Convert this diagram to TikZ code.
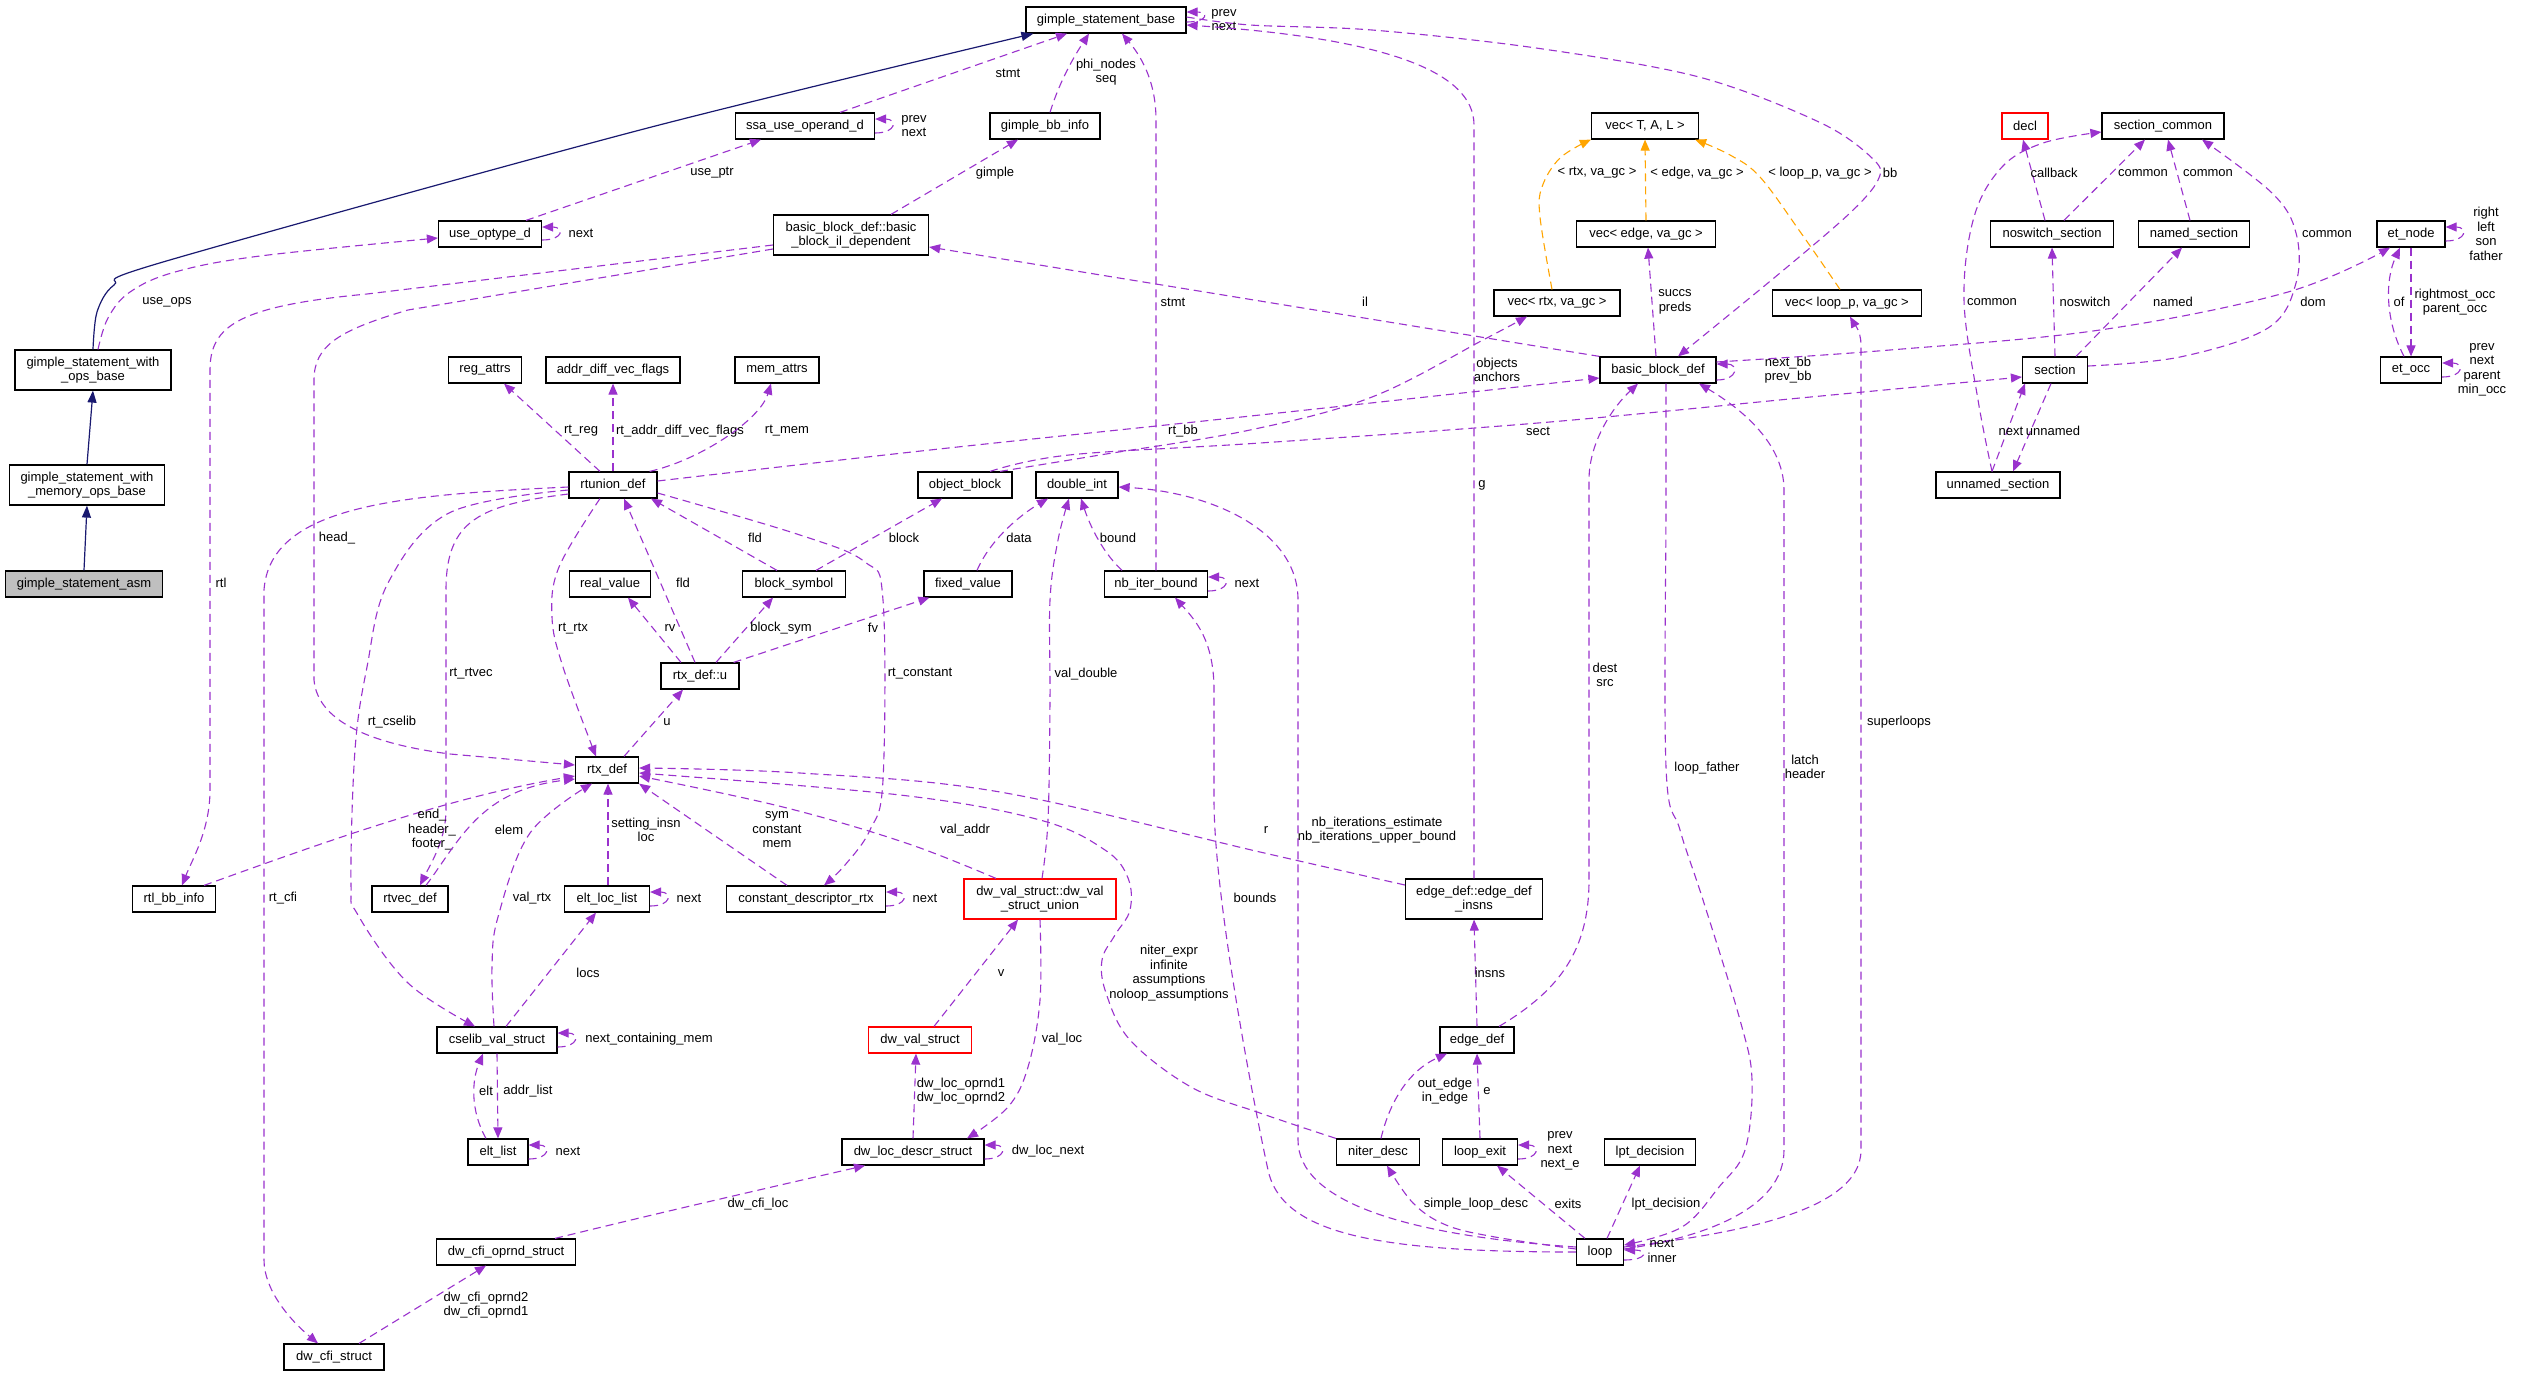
\documentclass[tikz,border=0pt]{standalone}
\usepackage{fontspec}
\setmainfont{Liberation Sans}
\usetikzlibrary{arrows.meta}
\definecolor{purp}{HTML}{9A32CD}
\definecolor{navyb}{HTML}{191970}
\definecolor{orng}{HTML}{FFA500}
\newcommand\labfont{\fontsize{13}{14.5}\selectfont}
\begin{document}
\begin{tikzpicture}[x=1pt,y=-1pt,
 box/.style={draw=black, line width=1.2pt, fill=white, minimum height=26pt, inner sep=1pt, align=center, font=\labfont},
 tall/.style={minimum height=40pt},
 redbox/.style={draw=red},
 rel/.style={draw=purp, line width=1.1pt, dash pattern=on 8pt off 5pt, -{Triangle[length=11pt,width=9pt]}},
 tpl/.style={rel, draw=orng},
 inh/.style={draw=navyb, line width=1.2pt, -{Triangle[length=12pt,width=9pt]}},
 lbl/.style={font=\labfont, inner sep=0pt, align=center}]
\useasboundingbox (0,0) rectangle (2521,1376);
\fill[white] (0,0) rectangle (2521,1376);

% ---------- nodes ----------
\node[box, minimum width=160] (gsb) at (1106,20) {gimple\_statement\_base};
\node[box, minimum width=139] (ssa) at (805,126) {ssa\_use\_operand\_d};
\node[box, minimum width=110] (gbbi) at (1045,126) {gimple\_bb\_info};
\node[box, minimum width=103] (uod) at (490,234) {use\_optype\_d};
\node[box, tall, minimum width=155] (bbil) at (851,235) {basic\_block\_def::basic\\\_block\_il\_dependent};
\node[box, tall, minimum width=156] (opsb) at (93,370) {gimple\_statement\_with\\\_ops\_base};
\node[box, tall, minimum width=155] (memb) at (87,485) {gimple\_statement\_with\\\_memory\_ops\_base};
\node[box, fill=black!25, minimum width=157] (asm) at (84,584) {gimple\_statement\_asm};
\node[box, minimum width=73] (reg) at (485,370) {reg\_attrs};
\node[box, minimum width=134] (adv) at (613,370) {addr\_diff\_vec\_flags};
\node[box, minimum width=84] (mem) at (777,370) {mem\_attrs};
\node[box, minimum width=107] (vecT) at (1645,126) {vec< T, A, L >};
\node[box, minimum width=139] (vecE) at (1646,234) {vec< edge, va\_gc >};
\node[box, minimum width=126] (vecR) at (1557,303) {vec< rtx, va\_gc >};
\node[box, minimum width=149] (vecL) at (1847,303) {vec< loop\_p, va\_gc >};
\node[box, minimum width=116] (bbd) at (1658,370) {basic\_block\_def};
\node[box, redbox, minimum width=46] (decl) at (2025,126) {decl};
\node[box, minimum width=122] (secc) at (2163,126) {section\_common};
\node[box, minimum width=123] (nosw) at (2052,234) {noswitch\_section};
\node[box, minimum width=111] (named) at (2194,234) {named\_section};
\node[box, minimum width=68] (etn) at (2411,234) {et\_node};
\node[box, minimum width=65] (sect) at (2055,370) {section};
\node[box, minimum width=61] (eto) at (2411,370) {et\_occ};
\node[box, minimum width=124] (unn) at (1998,485) {unnamed\_section};
\node[box, minimum width=88] (rtu) at (613,485) {rtunion\_def};
\node[box, minimum width=81] (real) at (610,584) {real\_value};
\node[box, minimum width=63] (rtx) at (607,770) {rtx\_def};
\node[box, minimum width=83] (rtlbb) at (174,899) {rtl\_bb\_info};
\node[box, minimum width=76] (rtvec) at (410,899) {rtvec\_def};
\node[box, minimum width=85] (ell) at (607,899) {elt\_loc\_list};
\node[box, minimum width=94] (objb) at (965,485) {object\_block};
\node[box, minimum width=82] (dint) at (1077,485) {double\_int};
\node[box, minimum width=103] (bsym) at (794,584) {block\_symbol};
\node[box, minimum width=88] (fixv) at (968,584) {fixed\_value};
\node[box, minimum width=103] (nbib) at (1156,584) {nb\_iter\_bound};
\node[box, minimum width=78] (rtxu) at (700,676) {rtx\_def::u};
\node[box, minimum width=159] (cdr) at (806,899) {constant\_descriptor\_rtx};
\node[box, tall, redbox, minimum width=152] (dvsu) at (1040,899) {dw\_val\_struct::dw\_val\\\_struct\_union};
\node[box, tall, minimum width=137] (edi) at (1474,899) {edge\_def::edge\_def\\\_insns};
\node[box, minimum width=120] (csv) at (497,1040) {cselib\_val\_struct};
\node[box, minimum width=60] (eltl) at (498,1152) {elt\_list};
\node[box, minimum width=139] (dcos) at (506,1252) {dw\_cfi\_oprnd\_struct};
\node[box, minimum width=100] (dcs) at (334,1357) {dw\_cfi\_struct};
\node[box, redbox, minimum width=103] (dvs) at (920,1040) {dw\_val\_struct};
\node[box, minimum width=142] (dlds) at (913,1152) {dw\_loc\_descr\_struct};
\node[box, minimum width=74] (edge) at (1477,1040) {edge\_def};
\node[box, minimum width=83] (nitd) at (1378,1152) {niter\_desc};
\node[box, minimum width=75] (lexit) at (1480,1152) {loop\_exit};
\node[box, minimum width=91] (lpt) at (1650,1152) {lpt\_decision};
\node[box, minimum width=47] (loop) at (1600,1252) {loop};

% ---------- inheritance ----------
\draw[inh] plot[smooth,tension=0.5] coordinates {(opsb.north) (97,312) (114,285) (163,262) (640,130) ([xshift=8]gsb.south west)};
\draw[inh] (memb.north) -- (opsb.south);
\draw[inh] (asm.north) -- (memb.south);

% ---------- top area ----------
\draw[rel] plot[smooth,tension=0.6] coordinates {([xshift=5]opsb.north) (108,318) (130,292) (175,272) (260,256) ([yshift=-4]uod.west)};
\node[lbl] (L1) at (167,302) {use\_ops};
\draw[rel] ([yshift=-6]uod.east) .. controls +(22,0) and +(22,0) .. ([yshift=7]uod.east);
\node[lbl] (L2) at (581,233) {next};
\draw[rel] ([xshift=36]uod.north) -- ([xshift=-44]ssa.south);
\node[lbl] (L3) at (712,173) {use\_ptr};
\draw[rel] ([yshift=-10]bbil.west) -- (367,294) .. controls (240,306) and (210,325) .. (210,370) -- (210,790) .. controls (210,830) and (192,860) .. ([xshift=8]rtlbb.north);
\node[lbl] (L4) at (221,583) {rtl};
\draw[rel] ([yshift=-14]bbil.west) -- (408,310) .. controls (340,330) and (314,345) .. (314,380) -- (314,680) .. controls (318,725) and (380,745) .. (450,754) -- ([yshift=5]rtx.west);
\node[lbl] (L5) at (337,538) {head\_};
\draw[rel] ([xshift=-13]rtu.north) -- ([xshift=19]reg.south);
\node[lbl] (L6) at (581,431) {rt\_reg};
\draw[rel] (rtu.north) -- (adv.south);
\node[lbl] (L7) at (680,431) {rt\_addr\_diff\_vec\_flags};
\draw[rel] ([xshift=-8]rtu.north east) .. controls (700,460) and (760,420) .. ([xshift=-6]mem.south);
\node[lbl] (L8) at (787,431) {rt\_mem};
\draw[rel] ([xshift=35]ssa.north) -- ([xshift=-39]gsb.south);
\node[lbl] (L9) at (1008,73) {stmt};
\draw[rel] ([yshift=-7]ssa.east) .. controls +(22,0) and +(22,0) .. ([yshift=7]ssa.east);
\node[lbl] (L10) at (914,126) {prev\\next};
\draw[rel] ([xshift=5]gbbi.north) .. controls (1060,80) and (1075,55) .. ([xshift=-17]gsb.south);
\node[lbl] (L11) at (1106,72) {phi\_nodes\\seq};
\draw[rel] ([xshift=40]bbil.north) -- ([xshift=-27]gbbi.south);
\node[lbl] (L12) at (995,173) {gimple};
\draw[rel] (nbib.north) -- (1156,120) .. controls (1156,80) and (1140,55) .. ([xshift=16]gsb.south);
\node[lbl] (L13) at (1173,302) {stmt};
\draw[rel] (bbd.north west) -- ([yshift=-12]bbil.east);
\node[lbl] (L14) at (1365,302) {il};
\draw[rel] ([yshift=-2]gsb.east) .. controls +(22,0) and +(22,0) .. ([yshift=8]gsb.east);
\node[lbl] (L15) at (1224,20) {prev\\next};
\draw[rel] plot[smooth,tension=0.55] coordinates {([yshift=3]gsb.east) (1250,25) (1372,30) (1536,48) (1699,77) (1821,123) (1874,160) (1878,180) (1850,213) (1780,273) ([xshift=20]bbd.north)};
\node[lbl] (L16) at (1890,173) {bb};
\draw[rel] (edi.north) -- (1474,125) .. controls (1474,70) and (1380,38) .. ([yshift=-5]gsb.east);
\node[lbl] (L17) at (1482,485) {g};

% ---------- vec templates ----------
\draw[tpl] plot[smooth,tension=0.6] coordinates {([xshift=-5]vecR.north) (1540,217) (1542,187) (1560,158) (vecT.south west)};
\node[lbl] (L18) at (1597,173) {< rtx, va\_gc >};
\draw[tpl] (vecE.north) -- (vecT.south);
\node[lbl] (L19) at (1697,173) {< edge, va\_gc >};
\draw[tpl] plot[smooth,tension=0.6] coordinates {([xshift=-7]vecL.north) (1801,233) (1760,177) (1730,155) ([xshift=-4]vecT.south east)};
\node[lbl] (L20) at (1820,173) {< loop\_p, va\_gc >};
\draw[rel] ([xshift=-2]bbd.north) -- ([xshift=2]vecE.south);
\node[lbl] (L21) at (1675,302) {succs\\preds};
\draw[rel] plot[smooth,tension=0.6] coordinates {([xshift=35]objb.north) (1100,455) (1250,430) (1372,397) (1483,340) ([xshift=-30]vecR.south)};
\node[lbl] (L22) at (1497,370) {objects\\anchors};
\draw[rel] plot[smooth,tension=0.6] coordinates {([xshift=25]objb.north) (1069,455) (1260,443) (1538,423) (1800,398) ([yshift=-7]sect.west)};
\node[lbl] (L23) at (1538,431) {sect};
\draw[rel] plot[smooth,tension=0.6] coordinates {([yshift=4]rtu.east) (930,450) (1260,415) ([yshift=-8]bbd.west)};
\node[lbl] (L24) at (1183,431) {rt\_bb};
\draw[rel] ([yshift=-10]bbd.east) .. controls +(22,0) and +(22,0) .. ([yshift=6]bbd.east);
\node[lbl] (L25) at (1788,370) {next\_bb\\prev\_bb};
\draw[rel] plot[smooth,tension=0.6] coordinates {([yshift=8]bbd.east) (1890,350) (2100,330) (2288,292) ([xshift=-21]etn.south)};
\node[lbl] (L26) at (2313,302) {dom};

% ---------- sections ----------
\draw[rel] plot[smooth,tension=0.6] coordinates {([yshift=4]sect.east) (2180,357) (2268,328) (2296,283) (2296,233) (2272,193) ([xshift=39]secc.south)};
\node[lbl] (L27) at (2327,234) {common};
\draw[rel] ([xshift=12]nosw.north) -- ([xshift=-18]secc.south);
\node[lbl] (L28) at (2143,173) {common};
\draw[rel] ([xshift=-4]named.north) -- ([xshift=5]secc.south);
\node[lbl] (L29) at (2208,173) {common};
\draw[rel] ([xshift=-7]nosw.north) -- ([xshift=-2]decl.south);
\node[lbl] (L30) at (2054,173) {callback};
\draw[rel] plot[smooth,tension=0.6] coordinates {([xshift=-6]unn.north) (1978,400) (1964,300) (1974,217) (2002,167) (2043,143) ([yshift=-6]secc.west)};
\node[lbl] (L31) at (1992,302) {common};
\draw[rel] (sect.north) -- (nosw.south);
\node[lbl] (L32) at (2085,302) {noswitch};
\draw[rel] ([xshift=21]sect.north) -- ([xshift=-12]named.south);
\node[lbl] (L33) at (2173,302) {named};
\draw[rel] ([xshift=-6]unn.north) -- ([xshift=-30]sect.south);
\node[lbl] (L34) at (2011,431) {next};
\draw[rel] ([xshift=-4]sect.south) -- ([xshift=15]unn.north);
\node[lbl] (L35) at (2053,431) {unnamed};
\draw[rel] ([yshift=-7]etn.east) .. controls +(22,0) and +(22,0) .. ([yshift=7]etn.east);
\node[lbl] (L36) at (2486,234) {right\\left\\son\\father};
\draw[rel] ([yshift=-7]eto.east) .. controls +(22,0) and +(22,0) .. ([yshift=7]eto.east);
\node[lbl] (L37) at (2482,370) {prev\\next\\parent\\min\_occ};
\draw[rel] ([xshift=-7]eto.north) .. controls (2385,320) and (2385,280) .. ([xshift=-11]etn.south);
\node[lbl] (L38) at (2399,302) {of};
\draw[rel] (etn.south) -- (eto.north);
\node[lbl] (L39) at (2455,302) {rightmost\_occ\\parent\_occ};

% ---------- loop area ----------
\draw[rel] ([yshift=5]loop.east) .. controls (1720,1235) and (1861,1215) .. (1861,1150) -- (1861,345) .. controls (1861,330) and (1853,322) .. ([xshift=3]vecL.south);
\node[lbl] (L40) at (1899,722) {superloops};
\draw[rel] ([yshift=3]loop.east) .. controls (1700,1238) and (1784,1210) .. (1784,1150) -- (1784,490) .. controls (1784,440) and (1735,405) .. ([xshift=41]bbd.south);
\node[lbl] (L41) at (1805,767) {latch\\header};
\draw[rel] plot[smooth,tension=0.6] coordinates {([xshift=8]bbd.south) (1666,500) (1666,767) (1680,830) (1703,900) (1740,1020) (1752,1080) (1745,1150) (1719,1187) (1682,1227) ([yshift=7]loop.east)};
\node[lbl] (L42) at (1707,768) {loop\_father};
\draw[rel] ([yshift=-8]loop.east) .. controls +(24,0) and +(24,0) .. ([yshift=2]loop.east);
\node[lbl] (L43) at (1662,1251) {next\\inner};
\draw[rel] ([xshift=22]edge.north) .. controls (1560,990) and (1589,950) .. (1589,880) -- (1589,480) .. controls (1589,440) and (1615,405) .. ([xshift=-20]bbd.south);
\node[lbl] (L44) at (1605,675) {dest\\src};
\draw[rel] (loop.west) .. controls (1380,1252) and (1282,1235) .. (1268,1170) .. controls (1255,1110) and (1214,900) .. (1214,800) -- (1214,690) .. controls (1214,640) and (1195,620) .. ([xshift=19]nbib.south);
\node[lbl] (L45) at (1255,898) {bounds};
\draw[rel] ([yshift=5]loop.west) .. controls (1400,1235) and (1298,1200) .. (1298,1140) -- (1298,600) .. controls (1298,530) and (1210,492) .. ([yshift=-2]dint.east);
\node[lbl] (L46) at (1377,830) {nb\_iterations\_estimate\\nb\_iterations\_upper\_bound};
\draw[rel] plot[smooth,tension=0.6] coordinates {([yshift=3]loop.west) (1495,1237) (1446,1225) (1413,1203) ([xshift=9]nitd.south)};
\node[lbl] (L47) at (1476,1204) {simple\_loop\_desc};
\draw[rel] ([xshift=-15]loop.north) -- ([xshift=17]lexit.south);
\node[lbl] (L48) at (1568,1204) {exits};
\draw[rel] ([xshift=7]loop.north) -- ([xshift=-10]lpt.south);
\node[lbl] (L49) at (1666,1204) {lpt\_decision};
\draw[rel] ([xshift=3]nitd.north) .. controls (1390,1100) and (1410,1070) .. ([xshift=-30]edge.south);
\node[lbl] (L50) at (1445,1091) {out\_edge\\in\_edge};
\draw[rel] (lexit.north) -- (edge.south);
\node[lbl] (L51) at (1487,1091) {e};
\draw[rel] (edge.north) -- (edi.south);
\node[lbl] (L52) at (1490,973) {insns};
\draw[rel] ([yshift=-7]lexit.east) .. controls +(22,0) and +(22,0) .. ([yshift=7]lexit.east);
\node[lbl] (L53) at (1560,1151) {prev\\next\\next\_e};
\draw[rel] plot[smooth,tension=0.6] coordinates {(nitd.north west) (1260,1113) (1191,1087) (1130,1040) (1106,993) (1102,960) (1115,935) (1130,910) (1128,878) (1105,850) (1040,820) (900,795) ([yshift=-3]rtx.east)};
\node[lbl] (L54) at (1169,973) {niter\_expr\\infinite\\assumptions\\noloop\_assumptions};
\draw[rel] plot[smooth,tension=0.6] coordinates {([yshift=14]edi.west) (1260,852) (1000,792) (800,773) ([yshift=2]rtx.east)};
\node[lbl] (L55) at (1266,830) {r};

% ---------- middle ----------
\draw[rel] plot[smooth,tension=0.6] coordinates {([xshift=-44]dvsu.north) (906,843) (783,807) ([yshift=-6]rtx.east)};
\node[lbl] (L56) at (965,830) {val\_addr};
\draw[rel] ([xshift=-19]cdr.north) -- (rtx.south east);
\node[lbl] (L57) at (777,830) {sym\\constant\\mem};
\draw[rel] plot[smooth,tension=0.6] coordinates {([yshift=-8]rtu.east) (800,535) (865,562) (883,600) (883,780) (870,830) (845,865) ([xshift=18]cdr.north)};
\node[lbl] (L58) at (920,674) {rt\_constant};
\draw[rel] plot[smooth,tension=0.6] coordinates {([xshift=2]dvsu.north) (1048,820) (1050,700) (1050,600) (1058,540) ([xshift=-8]dint.south)};
\node[lbl] (L59) at (1086,674) {val\_double};
\draw[rel] ([xshift=9]fixv.north) .. controls (990,540) and (1020,515) .. ([xshift=-29]dint.south);
\node[lbl] (L60) at (1019,538) {data};
\draw[rel] ([xshift=-34]nbib.north) .. controls (1100,550) and (1088,520) .. ([xshift=4]dint.south);
\node[lbl] (L61) at (1118,538) {bound};
\draw[rel] ([yshift=-7]nbib.east) .. controls +(22,0) and +(22,0) .. ([yshift=7]nbib.east);
\node[lbl] (L62) at (1247,583) {next};
\draw[rel] ([xshift=22]bsym.north) -- ([xshift=-23]objb.south);
\node[lbl] (L63) at (904,538) {block};
\draw[rel] ([xshift=-17]bsym.north) -- ([xshift=38]rtu.south);
\node[lbl] (L64) at (755,538) {fld};
\draw[rel] ([xshift=-5]rtxu.north) -- ([xshift=11]rtu.south);
\node[lbl] (L65) at (683,583) {fld};
\draw[rel] ([xshift=-19]rtxu.north) -- ([xshift=18]real.south);
\node[lbl] (L66) at (670,628) {rv};
\draw[rel] ([xshift=16]rtxu.north) -- ([xshift=-21]bsym.south);
\node[lbl] (L67) at (781,628) {block\_sym};
\draw[rel] ([xshift=-6]rtxu.north east) -- ([xshift=6]fixv.south west);
\node[lbl] (L68) at (873,628) {fv};
\draw[rel] ([xshift=17]rtx.north) -- ([xshift=-17]rtxu.south);
\node[lbl] (L69) at (667,722) {u};
\draw[rel] plot[smooth,tension=0.6] coordinates {([xshift=-13]rtu.south) (559,567) (552,617) (563,667) ([xshift=-11]rtx.north)};
\node[lbl] (L70) at (573,629) {rt\_rtx};
\draw[rel] ([yshift=-2]rtu.west) .. controls (400,495) and (270,505) .. (264,590) -- (264,1260) .. controls (264,1290) and (290,1320) .. ([xshift=-16]dcs.north);
\node[lbl] (L71) at (283,898) {rt\_cfi};
\draw[rel] plot[smooth,tension=0.6] coordinates {([yshift=-5]rtu.west) (449,513) (388,583) (367,667) (355,750) (351,883) (358,915) (408,983) ([xshift=-22]csv.north)};
\node[lbl] (L72) at (392,722) {rt\_cselib};
\draw[rel] ([yshift=-9]rtu.west) .. controls (480,505) and (446,520) .. (446,590) -- (446,810) .. controls (446,840) and (430,865) .. ([xshift=10]rtvec.north);
\node[lbl] (L73) at (471,674) {rt\_rtvec};
\draw[rel] ([xshift=30]rtlbb.north) .. controls (330,840) and (450,797) .. ([yshift=-6]rtx.west);
\node[lbl] (L74) at (432,830) {end\_\\header\_\\footer\_};
\draw[rel] ([xshift=16]rtvec.north) .. controls (460,840) and (480,790) .. ([yshift=-9]rtx.west);
\node[lbl] (L75) at (509,830) {elem};
\draw[rel] ([xshift=1]ell.north) -- ([xshift=1]rtx.south);
\node[lbl] (L76) at (646,830) {setting\_insn\\loc};
\draw[rel] plot[smooth,tension=0.6] coordinates {([xshift=-3]csv.north) (492,967) (498,917) (530,833) ([xshift=-15]rtx.south)};
\node[lbl] (L77) at (532,898) {val\_rtx};
\draw[rel] ([xshift=9]csv.north) -- ([xshift=-11]ell.south);
\node[lbl] (L78) at (588,973) {locs};
\draw[rel] ([yshift=-7]ell.east) .. controls +(22,0) and +(22,0) .. ([yshift=7]ell.east);
\node[lbl] (L79) at (689,898) {next};
\draw[rel] ([yshift=-7]csv.east) .. controls +(22,0) and +(22,0) .. ([yshift=7]csv.east);
\node[lbl] (L80) at (649,1039) {next\_containing\_mem};
\draw[rel] ([xshift=-12]eltl.north) .. controls (470,1110) and (472,1080) .. ([xshift=-14]csv.south);
\node[lbl] (L81) at (486,1091) {elt};
\draw[rel] (csv.south) -- (eltl.north);
\node[lbl] (L82) at (528,1091) {addr\_list};
\draw[rel] ([yshift=-7]eltl.east) .. controls +(22,0) and +(22,0) .. ([yshift=7]eltl.east);
\node[lbl] (L83) at (568,1151) {next};
\draw[rel] ([xshift=25]dcs.north) -- ([xshift=-20]dcos.south);
\node[lbl] (L84) at (486,1305) {dw\_cfi\_oprnd2\\dw\_cfi\_oprnd1};
\draw[rel] ([xshift=49]dcos.north) .. controls (650,1215) and (780,1185) .. ([xshift=-48]dlds.south);
\node[lbl] (L85) at (758,1204) {dw\_cfi\_loc};
\draw[rel] plot[smooth,tension=0.6] coordinates {(dvsu.south) (1040,1000) (1028,1067) (1008,1107) ([xshift=54]dlds.north)};
\node[lbl] (L86) at (1062,1039) {val\_loc};
\draw[rel] ([xshift=14]dvs.north) -- ([xshift=-22]dvsu.south);
\node[lbl] (L87) at (1001,973) {v};
\draw[rel] (dlds.north) -- ([xshift=-4]dvs.south);
\node[lbl] (L88) at (961,1091) {dw\_loc\_oprnd1\\dw\_loc\_oprnd2};
\draw[rel] ([yshift=-7]dlds.east) .. controls +(22,0) and +(22,0) .. ([yshift=7]dlds.east);
\node[lbl] (L89) at (1048,1151) {dw\_loc\_next};
\draw[rel] ([yshift=-7]cdr.east) .. controls +(22,0) and +(22,0) .. ([yshift=7]cdr.east);
\node[lbl] (L90) at (925,898) {next};
\end{tikzpicture}
\end{document}
